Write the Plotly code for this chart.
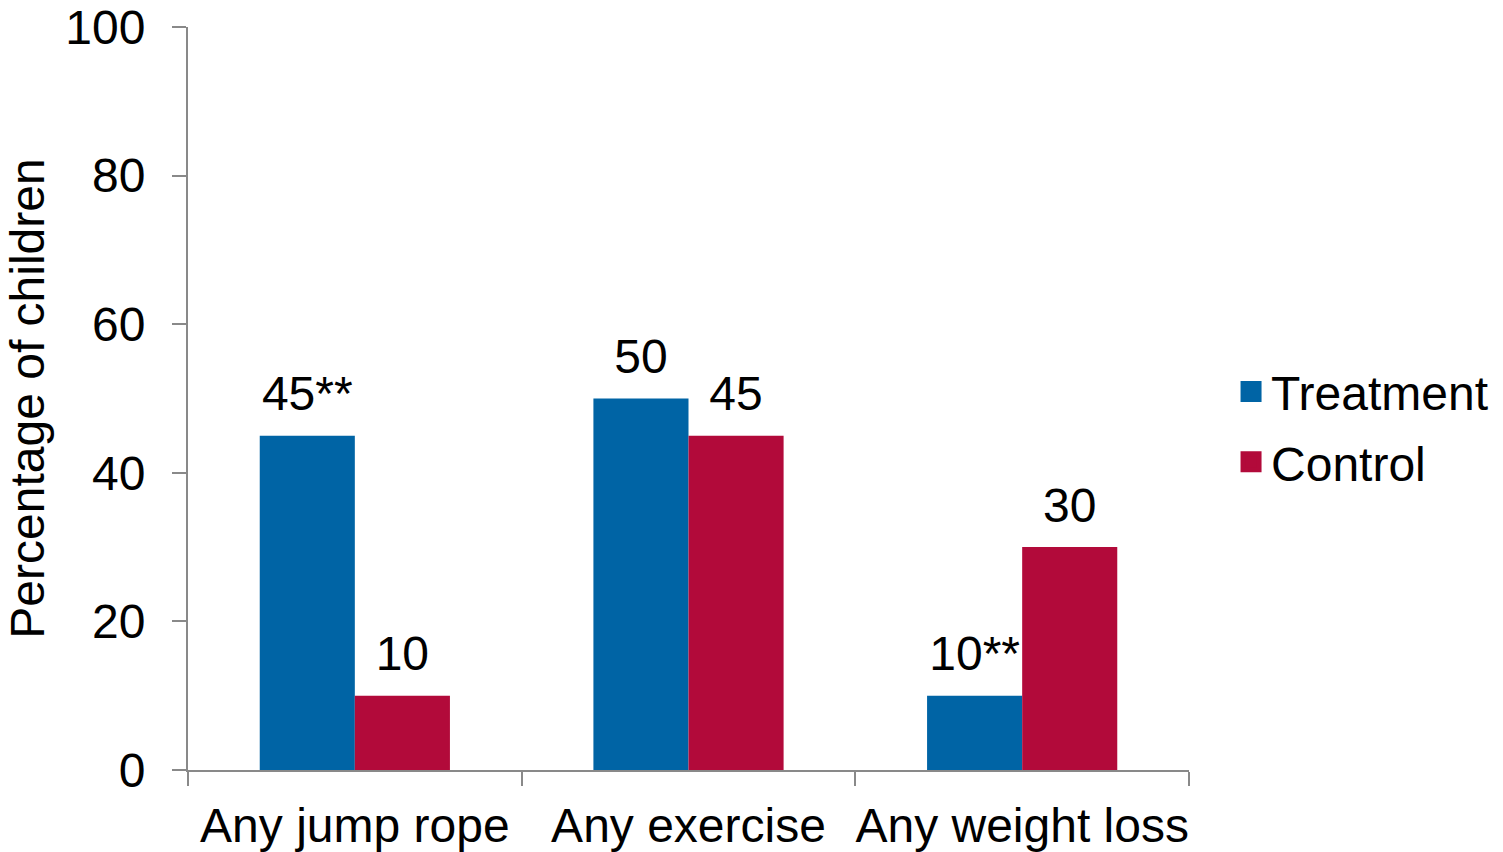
import plotly.graph_objects as go

categories = ["Any jump rope", "Any exercise", "Any weight loss"]
treatment = [45, 50, 10]
control = [10, 45, 30]
treatment_labels = ["45**", "50", "10**"]
control_labels = ["10", "45", "30"]
y_ticks = [0, 20, 40, 60, 80, 100]

BLUE = "#0064A5"
RED = "#B20A3A"
AXIS = "#898989"
FONT = "Liberation Sans, Arial, sans-serif"
FS = 48

fig = go.Figure()
fig.add_trace(go.Bar(x=categories, y=treatment, name="Treatment", marker_color=BLUE,
                     marker_line_width=0, showlegend=False, offsetgroup="t"))
fig.add_trace(go.Bar(x=categories, y=control, name="Control", marker_color=RED,
                     marker_line_width=0, showlegend=False, offsetgroup="c"))
# value labels, grouped the same way as the bars
for vals, labs, grp in [(treatment, treatment_labels, "t"), (control, control_labels, "c")]:
    fig.add_trace(go.Scatter(x=categories, y=vals, text=labs, mode="markers+text",
                             textposition="top center", offsetgroup=grp,
                             marker=dict(size=20, opacity=0), cliponaxis=False,
                             textfont=dict(size=FS, color="black", family=FONT),
                             showlegend=False, hoverinfo="skip"))
# legend entries with larger squares
for nm, col in [("Treatment", BLUE), ("Control", RED)]:
    fig.add_trace(go.Scatter(x=[None], y=[None], mode="markers", name=nm, legendgroup=nm,
                             marker=dict(symbol="square", size=16, color=col,
                                         line=dict(color=col, width=5))))

fig.update_layout(
    width=1503, height=852,
    margin=dict(l=188, r=314, t=27, b=82, autoexpand=False),
    paper_bgcolor="white", plot_bgcolor="white",
    font=dict(family=FONT, size=FS, color="black"),
    barmode="group", bargap=0.43, bargroupgap=0,
    scattermode="group", scattergap=0.43,
    legend=dict(x=1.042, y=0.462, xanchor="left", yanchor="middle",
                font=dict(size=FS, color="black", family=FONT),
                tracegroupgap=5, itemclick=False),
)
fig.update_xaxes(showline=True, linecolor=AXIS, linewidth=2, ticks="outside",
                 tickson="boundaries", ticklen=14, tickcolor=AXIS, tickwidth=2,
                 tickangle=0, automargin=False, ticklabelstandoff=12,
                 showgrid=False, tickfont=dict(size=FS, family=FONT, color="black"))
fig.update_yaxes(range=[0, 100], tickvals=y_ticks, showline=True, linecolor=AXIS,
                 linewidth=2, ticks="outside", ticklen=14, tickcolor=AXIS, tickwidth=2,
                 showgrid=False, zeroline=False, ticklabelstandoff=17, automargin=False,
                 tickfont=dict(size=FS, family=FONT, color="black"),
                 title=dict(text="Percentage of children", font=dict(size=FS, family=FONT),
                            standoff=6))

fig.write_html("out.html")
